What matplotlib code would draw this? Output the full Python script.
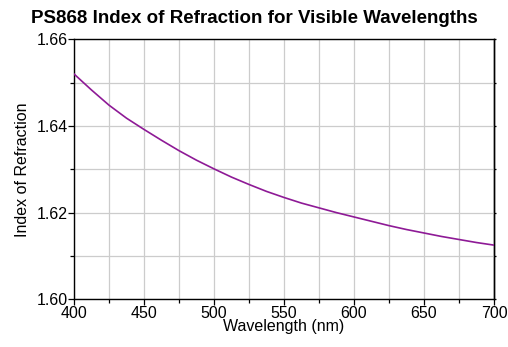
import matplotlib
matplotlib.use("Agg")
import matplotlib.pyplot as plt
from matplotlib.ticker import MultipleLocator, FormatStrFormatter, NullFormatter

plt.rcParams['font.family'] = ['Liberation Sans', 'DejaVu Sans']

wavelength = [400, 412.5, 425, 437.5, 450, 462.5, 475, 487.5, 500,
              512.5, 525, 537.5, 550, 562.5, 575, 587.5, 600,
              612.5, 625, 637.5, 650, 662.5, 675, 687.5, 700]
index_n = [1.6520, 1.6483, 1.6448, 1.6418, 1.6392, 1.6367, 1.6343, 1.6321, 1.6301,
           1.6282, 1.6265, 1.6249, 1.6235, 1.6222, 1.6211, 1.6200, 1.6190,
           1.6180, 1.6170, 1.6161, 1.6153, 1.6145, 1.6138, 1.6131, 1.6125]

title = "PS868 Index of Refraction for Visible Wavelengths"
xlabel = "Wavelength (nm)"
ylabel = "Index of Refraction"

fig = plt.figure(figsize=(5.08, 3.47), dpi=100)
ax = fig.add_axes([0.1457, 0.1375, 0.8267, 0.7492])

ax.plot(wavelength, index_n, color='#8e1a96', lw=1.2, zorder=3,
        solid_joinstyle='round')

ax.set_xlim(400, 700)
ax.set_ylim(1.60, 1.66)
ax.xaxis.set_major_locator(MultipleLocator(50))
ax.xaxis.set_minor_locator(MultipleLocator(25))
ax.yaxis.set_major_locator(MultipleLocator(0.02))
ax.yaxis.set_minor_locator(MultipleLocator(0.01))
ax.yaxis.set_major_formatter(FormatStrFormatter('%.2f'))

ax.grid(True, which='both', color='#cccccc', lw=0.9, zorder=0)
ax.set_axisbelow(True)

for s in ax.spines.values():
    s.set_linewidth(1.0)
    s.set_color('black')

ax.tick_params(axis='both', which='major', direction='out', length=4, width=0.9,
               labelsize=11.5, pad=0.5, colors='black')
ax.tick_params(axis='both', which='minor', direction='out', length=3, width=0.9)

sec = ax.secondary_yaxis('right')
sec.yaxis.set_major_locator(MultipleLocator(0.01))
sec.yaxis.set_major_formatter(NullFormatter())
sec.tick_params(direction='out', length=1.5, width=0.9)
sec.spines['right'].set_linewidth(1.0)

ax.set_xlabel(xlabel, fontsize=11.5, labelpad=-1)
ax.set_ylabel(ylabel, fontsize=11.5, labelpad=5)
fig.text(0.5, 0.948, title, ha='center', va='center', fontsize=13.5, fontweight='bold')

fig.savefig('out.png', dpi=100)
